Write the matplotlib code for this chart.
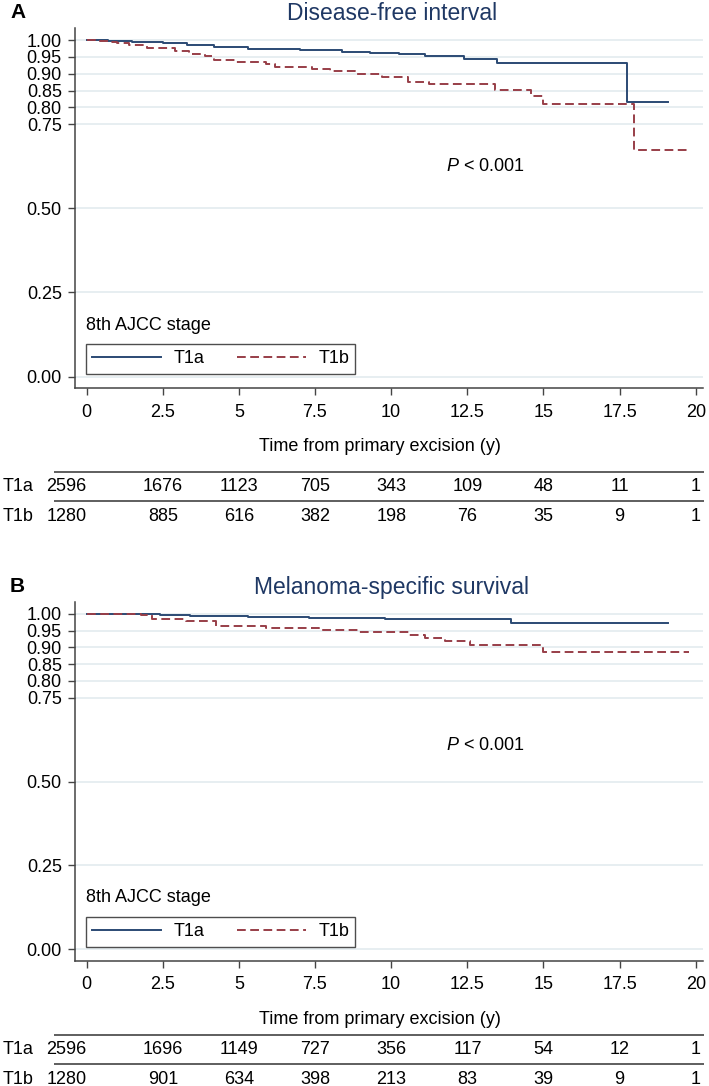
import numpy as np
import matplotlib.pyplot as plt

plt.rcParams['font.family'] = ['Liberation Sans', 'DejaVu Sans']
plt.rcParams['mathtext.fontset'] = 'custom'
plt.rcParams['mathtext.it'] = 'Liberation Sans:italic'
plt.rcParams['mathtext.rm'] = 'Liberation Sans'

# ---- data ----
# A: disease-free interval
dfi_t1a_time = [0, 0.7, 1.5, 2.5, 3.3, 4.2, 5.3, 7.0, 8.4, 9.3, 10.25, 11.1, 12.4, 13.47, 17.75, 19.08]
dfi_t1a_surv = [1.0, 0.997, 0.994, 0.99, 0.985, 0.98, 0.974, 0.970, 0.966, 0.962, 0.958, 0.952, 0.943, 0.931, 0.816, 0.816]
dfi_t1b_time = [0, 0.4, 0.7, 1.0, 1.4, 2.0, 2.9, 3.35, 3.9, 4.2, 4.9, 5.9, 6.2, 7.4, 8.0, 8.8, 9.7,
                10.57, 11.23, 13.42, 14.6, 15.0, 17.96, 19.71]
dfi_t1b_surv = [1.0, 0.998, 0.995, 0.99, 0.985, 0.978, 0.968, 0.96, 0.952, 0.94, 0.935, 0.93, 0.92, 0.914,
                0.909, 0.899, 0.889, 0.876, 0.869, 0.853, 0.833, 0.809, 0.673, 0.673]
# B: melanoma-specific survival
mss_t1a_time = [0, 1.2, 2.4, 3.4, 5.3, 6.0, 7.3, 9.8, 13.95, 19.1]
mss_t1a_surv = [1.0, 0.999, 0.997, 0.994, 0.991, 0.989, 0.987, 0.983, 0.972, 0.972]
mss_t1b_time = [0, 1.5, 1.8, 2.16, 3.26, 4.24, 5.9, 7.64, 8.96, 10.6, 11.1, 11.76, 12.58, 15.0, 19.78]
mss_t1b_surv = [1.0, 0.998, 0.996, 0.984, 0.977, 0.964, 0.957, 0.952, 0.947, 0.937, 0.928, 0.92, 0.908,
                0.886, 0.886]

risk_times = [0, 2.5, 5, 7.5, 10, 12.5, 15, 17.5, 20]
dfi_risk_t1a = [2596, 1676, 1123, 705, 343, 109, 48, 11, 1]
dfi_risk_t1b = [1280, 885, 616, 382, 198, 76, 35, 9, 1]
mss_risk_t1a = [2596, 1696, 1149, 727, 356, 117, 54, 12, 1]
mss_risk_t1b = [1280, 901, 634, 398, 213, 83, 39, 9, 1]

yticks = [0, 0.25, 0.5, 0.75, 0.8, 0.85, 0.9, 0.95, 1.0]
groups = ['T1a', 'T1b']

c_a = '#2b4a74'
c_b = '#983e48'
navy = '#1f3864'
W, H = 709, 1086
fs = 13


def box(x0, y0, x1, y1):
    return [x0 / W, 1 - y1 / H, (x1 - x0) / W, (y1 - y0) / H]


fig = plt.figure(figsize=(W / 100, H / 100), dpi=100)


def panel(letter, title, ta, sa, tb, sb, risk_a, risk_b, top, bottom, ptext_y, tab_top, tab_bot):
    ax = fig.add_axes(box(75, top, 703, bottom))
    ax.step(ta, sa, where='post', color=c_a, lw=1.4, label=groups[0])
    ax.step(tb, sb, where='post', color=c_b, lw=1.4, ls=(0, (4.5, 2.3)), label=groups[1])
    ax.set_xlim(-0.38, 20.24)
    ax.set_ylim(-0.035, 1.036)
    ax.set_yticks(yticks)
    ax.set_yticklabels(['%.2f' % v for v in yticks])
    ax.set_xticks(risk_times)
    ax.set_xticklabels(['%g' % v for v in risk_times])
    ax.grid(axis='y', color='#e0eaee', lw=1.1)
    ax.set_axisbelow(True)
    for s in ['top', 'right']:
        ax.spines[s].set_visible(False)
    for s in ['left', 'bottom']:
        ax.spines[s].set_color('#444444')
        ax.spines[s].set_linewidth(1.1)
    ax.tick_params(axis='y', length=5, width=1, color='#444444', pad=4.5, labelsize=fs)
    ax.tick_params(axis='x', length=5, width=1, color='#444444', pad=6, labelsize=fs)

    ax.text(11.8, ptext_y, '$P$ < 0.001', fontsize=fs, ha='left', va='center')

    # legend with the title sitting above the box, Stata style
    leg_bottom = (bottom - (bottom - top) * 0.0) - 14.5
    lb = (bottom - leg_bottom) / (bottom - top)
    leg = ax.legend(loc='lower left', bbox_to_anchor=(0.0175, lb), borderaxespad=0, ncol=2,
                    fontsize=fs, frameon=True, fancybox=False, handlelength=3.8,
                    handletextpad=0.7, columnspacing=1.8, borderpad=0.35)
    leg.get_frame().set_edgecolor('#222222')
    leg.get_frame().set_linewidth(1.0)
    ax.text(0.0175, lb + 0.135, '8th AJCC stage', transform=ax.transAxes, fontsize=fs,
            ha='left', va='center')

    fig.text(392 / W, 1 - (top - 14) / H, title, fontsize=16.5, color=navy, ha='center', va='center')
    fig.text(10 / W, 1 - (top - 15) / H, letter, fontsize=15, fontweight='bold', ha='left', va='center')
    fig.text(380 / W, 1 - (bottom + 58) / H, 'Time from primary excision (y)', fontsize=fs,
             ha='center', va='center')

    # numbers at risk
    tab = fig.add_axes(box(54, tab_top, 704, tab_bot))
    tab.set_xlim(-1.074, 20.27)
    tab.set_ylim((tab_bot - tab_top) / 29.5 - 0.73, -0.73)
    tab.axis('off')
    for r, (name, counts) in enumerate(zip(groups, [risk_a, risk_b])):
        tab.axhline(r - 0.5, color='#333333', lw=1.1)
        tab.text(-2.75, r, name, fontsize=fs, ha='left', va='center')
        for i, (t, n) in enumerate(zip(risk_times, counts)):
            tab.text(t, r, str(n), fontsize=fs, ha='right' if i == 0 else 'center', va='center')
    return ax


panel('A', 'Disease-free interval', dfi_t1a_time, dfi_t1a_surv, dfi_t1b_time, dfi_t1b_surv,
      dfi_risk_t1a, dfi_risk_t1b, 28, 388.3, 0.625, 465, 525)
panel('B', 'Melanoma-specific survival', mss_t1a_time, mss_t1a_surv, mss_t1b_time, mss_t1b_surv,
      mss_risk_t1a, mss_risk_t1b, 601.7, 961, 0.607, 1028, 1086)

fig.savefig('out.png', dpi=100)
